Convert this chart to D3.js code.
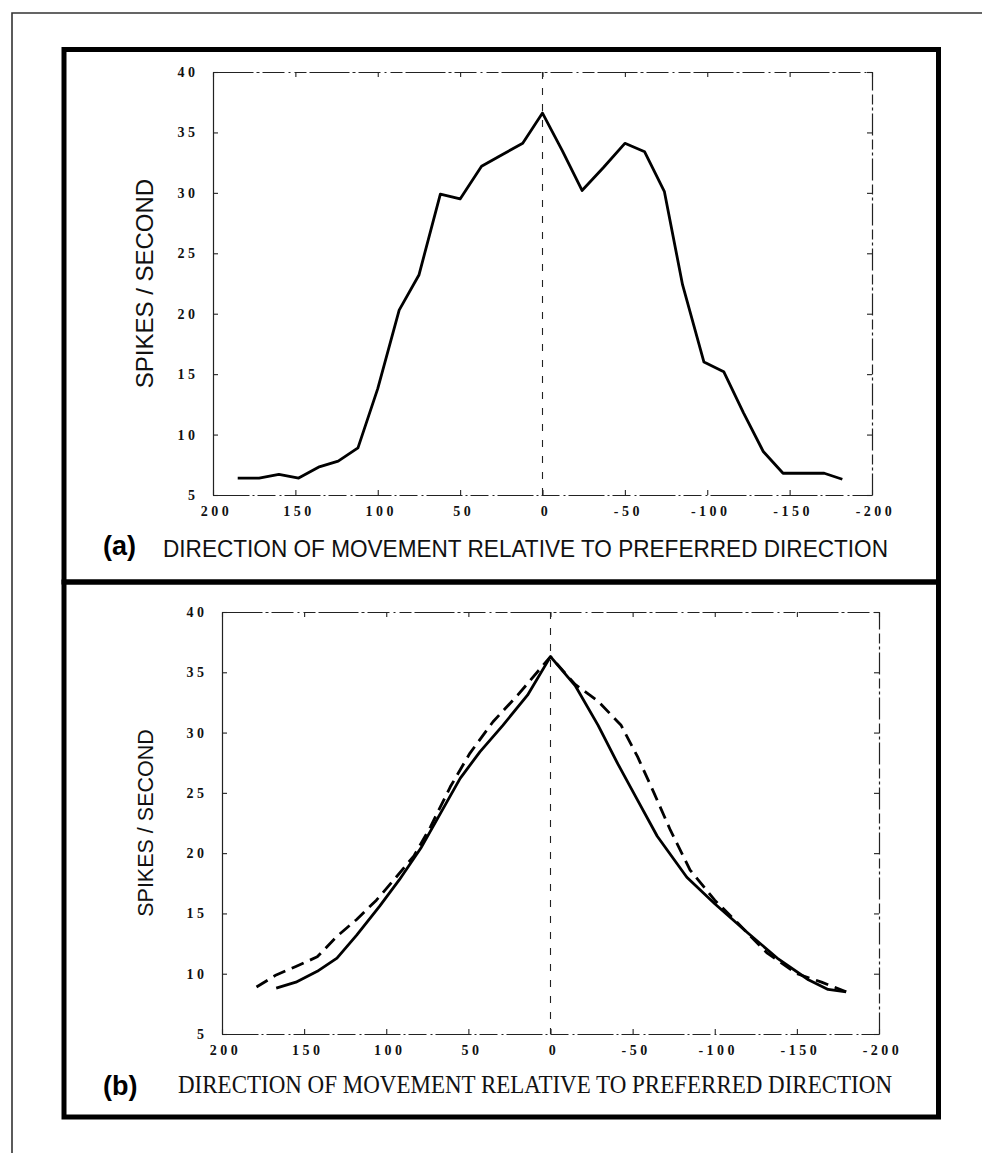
<!DOCTYPE html>
<html><head><meta charset="utf-8">
<script src="https://cdn.jsdelivr.net/npm/d3@7"></script>
<style>body{margin:0;background:#fff} svg{display:block}</style>
</head><body>
<svg id="c" width="982" height="1153"></svg>
<script>
// ---- data ----
const yTicks = [5, 10, 15, 20, 25, 30, 35, 40];
const xTicks = [200, 150, 100, 50, 0, -50, -100, -150, -200];
const yTitle = "SPIKES / SECOND";
const xTitle = "DIRECTION OF MOVEMENT RELATIVE TO PREFERRED DIRECTION";

// panel (a): measured firing rate
const dirA  = [185, 172, 160, 148, 136, 124, 112, 100, 87, 75, 62, 50, 37, 24, 12, 0, -12, -24, -37, -50, -62, -74, -85, -98, -110, -122, -134, -146, -158, -171, -182];
const rateA = [6.4, 6.4, 6.7, 6.4, 7.3, 7.8, 8.9, 13.8, 20.3, 23.2, 29.9, 29.5, 32.2, 33.2, 34.1, 36.6, 33.5, 30.2, 32.1, 34.1, 33.4, 30.1, 22.4, 16.0, 15.2, 11.8, 8.6, 6.8, 6.8, 6.8, 6.3];

// panel (b): solid curve
const dirBSolid  = [167, 155, 142, 130, 118, 104, 92, 79, 67, 55, 43, 29, 14, 0, -15, -29, -41, -53, -65, -83, -100, -120, -138, -157, -169, -180];
const rateBSolid = [8.8, 9.3, 10.2, 11.3, 13.2, 15.6, 17.8, 20.4, 23.3, 26.2, 28.4, 30.6, 33.1, 36.3, 33.9, 30.6, 27.4, 24.4, 21.4, 18.0, 15.8, 13.4, 11.3, 9.5, 8.7, 8.5];
// panel (b): dashed curve
const dirBDash  = [179, 167, 155, 142, 130, 118, 106, 94, 83, 73, 61, 49, 35, 20, 0, -15, -29, -43, -53, -63, -73, -85, -100, -114, -132, -150, -165, -180];
const rateBDash = [8.9, 9.9, 10.6, 11.4, 13.1, 14.5, 16.1, 18.0, 19.8, 22.2, 25.5, 28.3, 30.9, 33.1, 36.3, 34.0, 32.6, 30.6, 28.0, 25.0, 21.9, 18.6, 16.1, 14.2, 11.7, 10.0, 9.3, 8.5];

const svg = d3.select('#c');
svg.append('rect').attr('width', 982).attr('height', 1153).attr('fill', '#fff');

// outer thin frame
svg.append('path').attr('d', 'M12,1153 L12,13 L982,13')
  .attr('fill', 'none').attr('stroke', '#333').attr('stroke-width', 1.6);

// thick panel boxes
svg.append('rect').attr('x', 64).attr('y', 49.5).attr('width', 874.5).attr('height', 532.5)
  .attr('fill', 'none').attr('stroke', '#000').attr('stroke-width', 5);
svg.append('rect').attr('x', 64).attr('y', 582).attr('width', 874.5).attr('height', 535)
  .attr('fill', 'none').attr('stroke', '#000').attr('stroke-width', 5);

function drawPanel(cfg) {
  const g = svg.append('g');
  const x = d3.scaleLinear().domain([200, -200]).range([cfg.x0, cfg.x1]);
  const y = d3.scaleLinear().domain([5, 40]).range([cfg.yb, cfg.yt]);
  const fmt = d => String(d);

  const left = g.append('g').attr('transform', `translate(${cfg.x0},0)`)
    .call(d3.axisLeft(y).tickValues(yTicks).tickSize(-5).tickSizeOuter(0).tickPadding(18).tickFormat(fmt));
  const bottom = g.append('g').attr('transform', `translate(0,${cfg.yb})`)
    .call(d3.axisBottom(x).tickValues(xTicks).tickSize(-5).tickSizeOuter(0).tickPadding(11).tickFormat(fmt));
  const top = g.append('g').attr('transform', `translate(0,${cfg.yt})`)
    .call(d3.axisTop(x).tickValues(xTicks).tickSize(-5).tickSizeOuter(0).tickFormat(''));
  const right = g.append('g').attr('transform', `translate(${cfg.x1},0)`)
    .call(d3.axisRight(y).tickValues(yTicks).tickSize(-5).tickSizeOuter(0).tickFormat(''));

  [left, bottom, top, right].forEach(a => {
    a.selectAll('.domain').attr('stroke', '#222').attr('stroke-width', 1.2);
    a.selectAll('.tick line').attr('stroke', '#222').attr('stroke-width', 1.1);
  });
  top.select('.domain').attr('stroke-dasharray', '40,3,3,3,22,4,2,4,12,3');
  right.select('.domain').attr('stroke-dasharray', '22,3,3,3,10,4');
  bottom.select('.domain').attr('stroke-dasharray', '36,3,2,3,18,4,2,3');

  [left, bottom].forEach(a => a.selectAll('.tick text')
    .attr('font-family', '"Liberation Serif", "Times New Roman", serif')
    .attr('font-weight', 'bold').attr('font-size', 14)
    .attr('letter-spacing', '3.5px').attr('fill', '#111'));
  left.selectAll('.tick text').attr('dx', 3.5);
  bottom.selectAll('.tick text').attr('dx', 3);

  // vertical dashed line at 0
  g.append('line').attr('x1', x(0)).attr('x2', x(0)).attr('y1', y(40)).attr('y2', y(5))
    .attr('stroke', '#222').attr('stroke-width', 1.1).attr('stroke-dasharray', '7,9');

  const line = d3.line().x(d => x(d[0])).y(d => y(d[1]));
  cfg.series.forEach(s => {
    g.append('path').datum(d3.zip(s.dir, s.rate)).attr('d', line)
      .attr('fill', 'none').attr('stroke', '#000').attr('stroke-width', 2.8)
      .attr('stroke-linejoin', 'round')
      .attr('stroke-dasharray', s.dash || null);
  });

  // y title
  g.append('text').attr('transform', `translate(${cfg.ytx},${(cfg.yt + cfg.yb) / 2}) rotate(-90)`)
    .attr('text-anchor', 'middle').attr('font-family', '"Liberation Sans", Arial, sans-serif')
    .attr('font-size', cfg.ytSize).attr('fill', '#111').text(yTitle);

  // x title
  g.append('text').attr('x', cfg.xtx).attr('y', cfg.xty)
    .attr('font-family', cfg.xtFont).attr('font-size', cfg.xtSize)
    .attr('textLength', cfg.xtLen).attr('lengthAdjust', 'spacingAndGlyphs')
    .attr('fill', '#111').text(xTitle);

  // panel letter
  g.append('text').attr('x', cfg.lx).attr('y', cfg.ly)
    .attr('font-family', '"Liberation Sans", Arial, sans-serif').attr('font-weight', 'bold')
    .attr('font-size', 27).attr('fill', '#000').text(cfg.letter);
}

drawPanel({
  x0: 213, x1: 872, yt: 72, yb: 495,
  series: [{dir: dirA, rate: rateA}],
  ytx: 153, ytSize: 24,
  xtx: 163, xty: 557, xtLen: 725, xtSize: 23.5, xtFont: '"Liberation Sans", Arial, sans-serif',
  lx: 103, ly: 555, letter: '(a)'
});
drawPanel({
  x0: 222, x1: 879, yt: 612, yb: 1034,
  series: [{dir: dirBDash, rate: rateBDash, dash: '13,7'}, {dir: dirBSolid, rate: rateBSolid}],
  ytx: 153, ytSize: 21.5,
  xtx: 178, xty: 1093, xtLen: 714, xtSize: 25, xtFont: '"Liberation Serif", "Times New Roman", serif',
  lx: 103, ly: 1095, letter: '(b)'
});
</script>
</body></html>
